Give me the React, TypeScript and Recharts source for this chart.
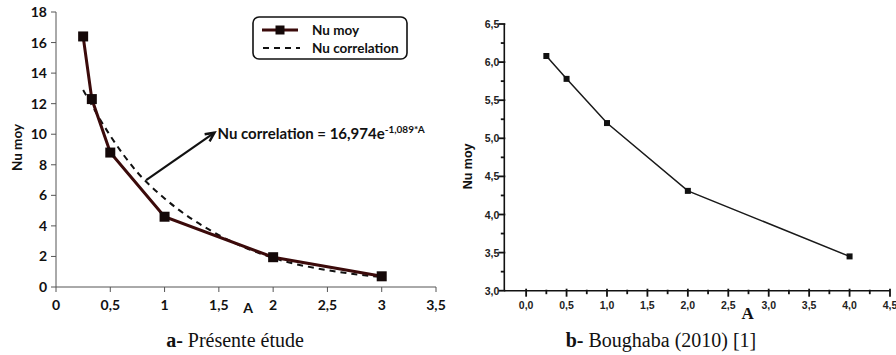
import React from 'react';
import { LineChart, Line, XAxis, YAxis, ReferenceLine, Legend } from 'recharts';

// ---------- Chart a: Présente étude ----------
const nuMoyA = [0.25, 0.33, 0.5, 1, 2, 3];
const nuMoyValues = [16.4, 12.3, 8.8, 4.6, 1.95, 0.7];
const corrA = [0.25, 0.5, 0.75, 1, 1.5, 2, 2.5, 3];
const corrValues = [12.9, 9.9, 7.5, 5.8, 3.4, 1.9, 1.1, 0.65];
const leftXTicks = [0, 0.5, 1, 1.5, 2, 2.5, 3, 3.5];
const leftYTicks = [0, 2, 4, 6, 8, 10, 12, 14, 16, 18];

// ---------- Chart b: Boughaba (2010) ----------
const boughabaA = [0.25, 0.5, 1, 2, 4];
const boughabaValues = [6.08, 5.78, 5.2, 4.31, 3.45];
const rightXTicks = [0, 0.25, 0.5, 0.75, 1, 1.25, 1.5, 1.75, 2, 2.25, 2.5, 2.75, 3, 3.25, 3.5, 3.75, 4, 4.25, 4.5];
const rightYTicks = [3, 3.25, 3.5, 3.75, 4, 4.25, 4.5, 4.75, 5, 5.25, 5.5, 5.75, 6, 6.25, 6.5];

const nuMoyData = nuMoyA.map((a, i) => ({ a, v: nuMoyValues[i] }));
const corrData = corrA.map((a, i) => ({ a, v: corrValues[i] }));
const boughabaData = boughabaA.map((a, i) => ({ a, v: boughabaValues[i] }));

const SANS = 'Lato, "Liberation Sans", sans-serif';
const ARIAL = '"Liberation Sans", Arial, sans-serif';
const SERIF = '"Liberation Serif", "Times New Roman", serif';

const comma = (v: number) => String(v).replace('.', ',');
const comma1 = (v: number) => v.toFixed(1).replace('.', ',');
const isMajor = (v: number) => Math.abs(v * 2 - Math.round(v * 2)) < 1e-6;

const SquareDot = (size: number, fill: string) => (props: any) => {
  const { cx, cy, index } = props;
  if (cx == null || cy == null) return <g key={index} />;
  return <rect key={index} x={cx - size / 2} y={cy - size / 2} width={size} height={size} fill={fill} />;
};

const ArrowShape = (props: any) => {
  const { x1, y1, x2, y2 } = props;
  const ang = Math.atan2(y2 - y1, x2 - x1);
  const L = 10;
  const spread = 0.45;
  const ax = x2 - L * Math.cos(ang - spread);
  const ay = y2 - L * Math.sin(ang - spread);
  const bx = x2 - L * Math.cos(ang + spread);
  const by = y2 - L * Math.sin(ang + spread);
  return (
    <g>
      <line x1={x1} y1={y1} x2={x2} y2={y2} stroke="#111" strokeWidth={2.2} />
      <polyline points={`${ax},${ay} ${x2},${y2} ${bx},${by}`} fill="none" stroke="#111" strokeWidth={2.4} />
      <text x={x2 + 3} y={y2 + 6} fontFamily={SANS} fontWeight={700} fontSize={15} fill="#111">
        Nu correlation = 16,974e
        <tspan dy={-6} fontSize={10}>-1,089*A</tspan>
      </text>
    </g>
  );
};

const LegendBox = () => (
  <svg width={156} height={44} style={{ display: 'block' }}>
    <rect x={1} y={1} width={154} height={42} rx={6} ry={6} fill="#fff" stroke="#111" strokeWidth={1.6} />
    <line x1={10} y1={14} x2={46} y2={14} stroke="#3b0a0a" strokeWidth={3} />
    <rect x={23.5} y={9.5} width={9} height={9} fill="#140808" />
    <text x={60} y={19} fontFamily={SANS} fontWeight={700} fontSize={13.5} fill="#111">Nu moy</text>
    <line x1={11} y1={32} x2={48} y2={32} stroke="#111" strokeWidth={2} strokeDasharray="6 5" />
    <text x={60} y={37} fontFamily={SANS} fontWeight={700} fontSize={13.5} fill="#111">Nu correlation</text>
  </svg>
);

const AxisTitleX = (props: any) => {
  const { viewBox, value, at, domain, baselineOffset, family, size } = props;
  if (!viewBox) return null;
  const frac = (at - domain[0]) / (domain[1] - domain[0]);
  return (
    <text x={viewBox.x + frac * viewBox.width} y={viewBox.y + baselineOffset} textAnchor="middle"
      fontFamily={family} fontWeight={700} fontSize={size} fill="#111">{value}</text>
  );
};

const AxisTitleY = (props: any) => {
  const { viewBox, value, cxAbs, shiftY, family, size } = props;
  if (!viewBox) return null;
  const cy = viewBox.y + viewBox.height / 2 + (shiftY || 0);
  return (
    <text x={cxAbs} y={cy} transform={`rotate(-90 ${cxAbs} ${cy})`} textAnchor="middle" dominantBaseline="central"
      fontFamily={family} fontWeight={700} fontSize={size} fill="#111">{value}</text>
  );
};

const RightXTick = (props: any) => {
  const { x, y, payload } = props;
  const v = payload.value;
  const major = isMajor(v);
  return (
    <g>
      <line x1={x} x2={x} y1={y - (major ? 2 : 1)} y2={y + (major ? 6 : 3.5)} stroke="#111" strokeWidth={1.8} />
      {major && (
        <text x={x} y={y + 18} textAnchor="middle" fontFamily={ARIAL} fontWeight={700} fontSize={10.5} fill="#222">
          {comma1(v)}
        </text>
      )}
    </g>
  );
};

const RightYTick = (props: any) => {
  const { x, y, payload } = props;
  const v = payload.value;
  const major = isMajor(v);
  return (
    <g>
      <line x1={x - (major ? 6 : 3.5)} x2={x + (major ? 1 : 0)} y1={y} y2={y} stroke="#111" strokeWidth={1.8} />
      {major && (
        <text x={x - 5} y={y + 4} textAnchor="end" fontFamily={ARIAL} fontWeight={700} fontSize={10.5} fill="#222">
          {comma1(v)}
        </text>
      )}
    </g>
  );
};

const leftDomainX: [number, number] = [0, 3.5];
const rightDomainX: [number, number] = [-0.27, 4.5];

export default function App() {
  return (
    <div style={{ position: 'absolute', left: 0, top: 0, width: 896, height: 355, background: '#fff', overflow: 'hidden' }}>
      <div style={{ position: 'absolute', left: 0, top: 0 }}>
        <LineChart width={450} height={320} margin={{ top: 12, right: 14, bottom: 0, left: 16 }}>
          <XAxis
            type="number"
            dataKey="a"
            domain={leftDomainX}
            ticks={leftXTicks}
            allowDataOverflow
            height={33}
            tickFormatter={comma}
            stroke="#555"
            tickSize={5}
            tickMargin={8}
            tick={{ fill: '#111', fontSize: 14, fontWeight: 700, fontFamily: SANS }}
            label={<AxisTitleX value="A" at={1.77} domain={leftDomainX} baselineOffset={26} family={SANS} size={14} />}
          />
          <YAxis
            type="number"
            dataKey="v"
            domain={[0, 18]}
            ticks={leftYTicks}
            width={40}
            stroke="#555"
            tickSize={5}
            tickMargin={4}
            tick={{ fill: '#111', fontSize: 14, fontWeight: 700, fontFamily: SANS }}
            label={<AxisTitleY value="Nu moy" cxAbs={17} shiftY={-2} family={SANS} size={13.5} />}
          />
          <Line
            data={corrData}
            dataKey="v"
            type="monotone"
            stroke="#111"
            strokeWidth={2}
            strokeDasharray="6 5"
            dot={false}
            isAnimationActive={false}
          />
          <Line
            data={nuMoyData}
            dataKey="v"
            type="linear"
            stroke="#3b0a0a"
            strokeWidth={3}
            dot={SquareDot(10, '#140808')}
            activeDot={false}
            isAnimationActive={false}
          />
          <ReferenceLine
            segment={[{ x: 0.83, y: 7.0 }, { x: 1.46, y: 10.1 }]}
            shape={ArrowShape}
            ifOverflow="visible"
          />
          <Legend
            layout="horizontal"
            verticalAlign="middle"
            align="center"
            content={() => <LegendBox />}
            wrapperStyle={{ position: 'absolute', left: 252, top: 16, width: 156, height: 44 }}
          />
        </LineChart>
      </div>

      <div style={{ position: 'absolute', left: 450, top: 0 }}>
        <LineChart width={446} height={335} margin={{ top: 24, right: 6, bottom: 15, left: 0 }}>
          <XAxis
            type="number"
            dataKey="a"
            domain={rightDomainX}
            ticks={rightXTicks}
            allowDataOverflow
            interval={0}
            height={29.3}
            stroke="#111"
            strokeWidth={1.6}
            tickLine={false}
            tickSize={0}
            tickMargin={0}
            tick={<RightXTick />}
            label={<AxisTitleX value="A" at={2.74} domain={rightDomainX} baselineOffset={28} family={SERIF} size={17} />}
          />
          <YAxis
            type="number"
            dataKey="v"
            domain={[3, 6.5]}
            ticks={rightYTicks}
            interval={0}
            allowDataOverflow
            width={54.3}
            stroke="#111"
            strokeWidth={1.6}
            tickLine={false}
            tickSize={0}
            tickMargin={0}
            tick={<RightYTick />}
            label={<AxisTitleY value="Nu moy" cxAbs={18} shiftY={9} family={ARIAL} size={12.5} />}
          />
          <Line
            data={boughabaData}
            dataKey="v"
            type="linear"
            stroke="#1a1a1a"
            strokeWidth={1.5}
            dot={SquareDot(6, '#111')}
            activeDot={false}
            isAnimationActive={false}
          />
        </LineChart>
      </div>

      <div style={{ position: 'absolute', left: 135, width: 200, top: 329, textAlign: 'center', fontFamily: SERIF, fontSize: 20, color: '#111', whiteSpace: 'nowrap' }}>
        <b>a-</b> Présente étude
      </div>
      <div style={{ position: 'absolute', left: 561, width: 200, top: 329, textAlign: 'center', fontFamily: SERIF, fontSize: 20, color: '#111', whiteSpace: 'nowrap' }}>
        <b>b-</b> Boughaba (2010) [1]
      </div>
    </div>
  );
}
